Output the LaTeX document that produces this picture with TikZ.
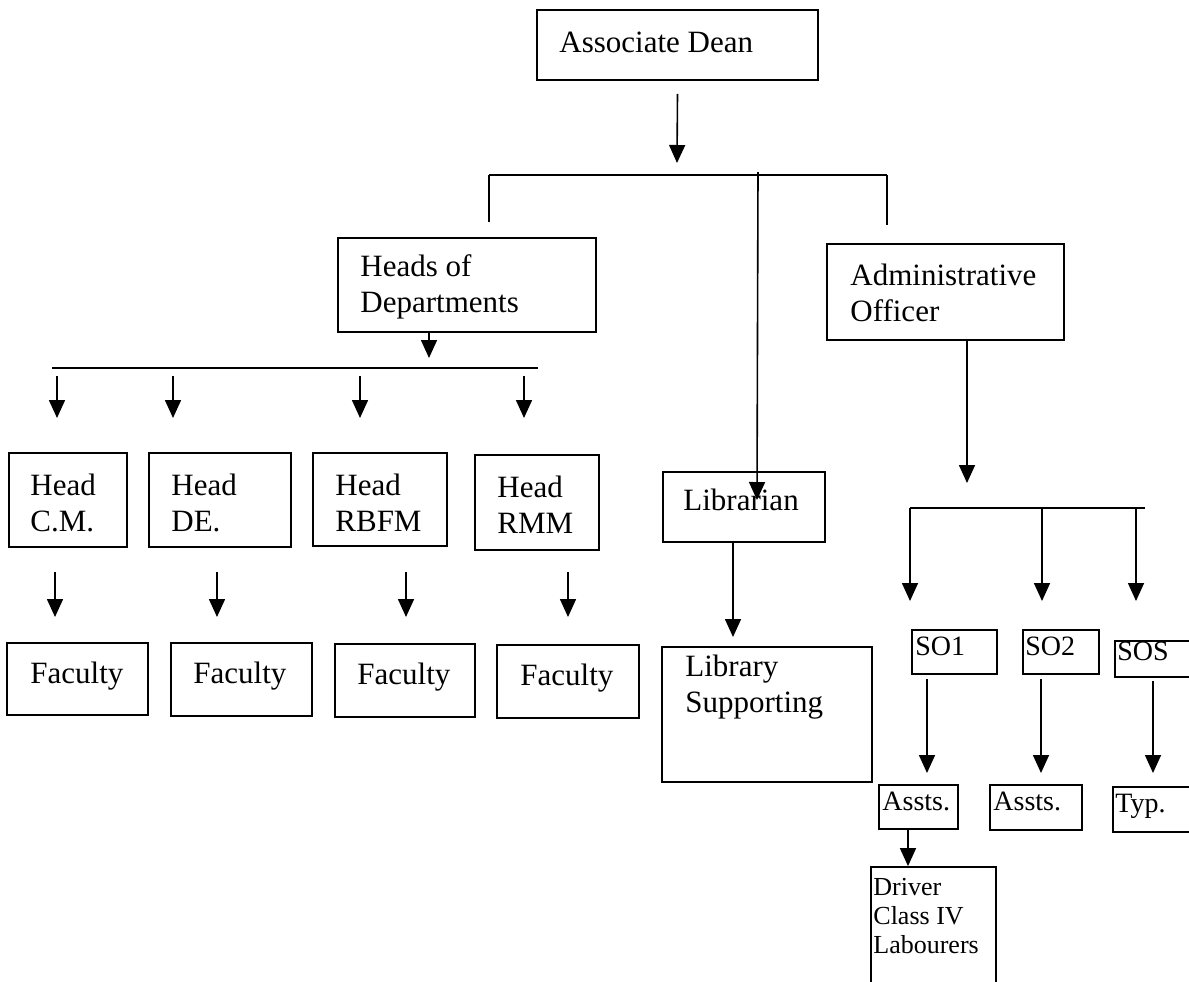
\documentclass[tikz,border=0pt]{standalone}
\usepackage{fontspec}
\setmainfont{Liberation Serif}
\usetikzlibrary{arrows.meta,fit}
\tikzset{box/.style={draw,rectangle,line width=0.9pt,inner sep=0pt}}
\tikzset{txt/.style={anchor=base west,inner sep=0pt,align=left,
                     font=\fontsize{15.5}{18}\selectfont}}
\tikzset{small/.style={txt,font=\fontsize{14}{15}\selectfont}}
\tikzset{tiny/.style={txt,font=\fontsize{13}{14.5}\selectfont}}
\tikzset{line/.style={line width=0.8pt}}
\tikzset{arr/.style={line,-{Triangle[length=9pt,width=8pt]}}}

\begin{document}
\begin{tikzpicture}[x=0.5pt,y=-0.5pt]
    \useasboundingbox (0,0) rectangle (1189,981);

    \node[box,fit={(537,10) (818,80)}] (dean) {};
    \node[txt] (deant) at (559,52) {Associate Dean};

    \node[box,fit={(338,238) (596,332)}] (hod) {};
    \node[txt] (hodt) at (360,312) {Heads of\\Departments};
    \node[box,fit={(827,244) (1064,340)}] (admin) {};
    \node[txt] (admint) at (850,321) {Administrative\\Officer};

    \node[box,fit={(9,453) (127,547)}] (hcm) {};
    \node[txt] (hcmt) at (30,531) {Head\\C.M.};
    \node[box,fit={(149,453) (291,547)}] (hde) {};
    \node[txt] (hdet) at (171,531) {Head\\DE.};
    \node[box,fit={(313,453) (447,546)}] (hrbfm) {};
    \node[txt] (hrbfmt) at (335,531) {Head\\RBFM};
    \node[box,fit={(475,455) (599,550)}] (hrmm) {};
    \node[txt] (hrmmt) at (497,533) {Head\\RMM};

    \node[box,fit={(7,643) (148,715)}] (fac1) {};
    \node[txt] (fac1t) at (30,683) {Faculty};
    \node[box,fit={(171,643) (312,716)}] (fac2) {};
    \node[txt] (fac2t) at (193,683) {Faculty};
    \node[box,fit={(335,644) (475,717)}] (fac3) {};
    \node[txt] (fac3t) at (357,684) {Faculty};
    \node[box,fit={(497,645) (639,718)}] (fac4) {};
    \node[txt] (fac4t) at (520,685) {Faculty};

    \node[box,fit={(663,472) (825,542)}] (lib) {};
    \node[txt] (libt) at (683,510) {Librarian};
    \node[box,fit={(662,647) (872,782)}] (libsup) {};
    \node[txt] (libsupt) at (685,712) {Library\\Supporting};

    \node[box,fit={(912,630) (997,674)}] (so1) {};
    \node[small] (so1t) at (915,655) {SO1};
    \node[box,fit={(1023,630) (1099,674)}] (so2) {};
    \node[small] (so2t) at (1025,655) {SO2};
    \node[box,fit={(1115,641) (1200,677)}] (sos) {};
    \node[small] (sost) at (1117,660) {SOS};

    \node[box,fit={(879,785) (958,829)}] (assts1) {};
    \node[small] (assts1t) at (882,810) {Assts.};
    \node[box,fit={(990,785) (1082,830)}] (assts2) {};
    \node[small] (assts2t) at (993,810) {Assts.};
    \node[box,fit={(1113,787) (1200,832)}] (typ) {};
    \node[small] (typt) at (1115,812) {Typ.};

    \node[box,fit={(871,867) (996,995)}] (driver) {};
    \node[tiny] (drivert) at (873,953) {Driver\\Class IV\\Labourers};

    % dean to the three branches
    \coordinate (deantip) at (677,163);
    \coordinate (barl) at (489,175);
    \coordinate (barr) at (887,175);
    \coordinate (barm) at (758,172);
    \coordinate (libtip) at (757,500);
    \draw[arr] (dean.south) ++(0,13) -- (deantip);
    \draw[line] (barl) -- (barr);
    \draw[line] (barl) -- ++(0,47);
    \draw[line] (barr) -- ++(0,50);
    \draw[arr] (barm) -- (libtip);

    % heads of departments
    \coordinate (hodtip) at (429,358);
    \coordinate (hodbarl) at (52,368);
    \coordinate (hodbarr) at (538,368);
    \draw[arr] (hod.south -| hodtip) -- (hodtip);
    \draw[line] (hodbarl) -- (hodbarr);
    \foreach \x [count=\i] in {57,173,360,524}{
        \coordinate (dtop\i) at (\x,376);
        \coordinate (dtip\i) at (\x,418);
        \draw[arr] (dtop\i) -- (dtip\i);
    }
    \foreach \x [count=\i] in {55,217,406,568}{
        \coordinate (ftop\i) at (\x,572);
        \coordinate (ftip\i) at (\x,617);
        \draw[arr] (ftop\i) -- (ftip\i);
    }

    % librarian
    \coordinate (libsuptip) at (733,637);
    \draw[arr] (lib.south -| libsuptip) -- (libsuptip);

    % administrative officer
    \coordinate (admtip) at (967,483);
    \coordinate (admbarl) at (910,508);
    \coordinate (admbarr) at (1145,508);
    \draw[arr] (admin.south -| admtip) -- (admtip);
    \draw[line] (admbarl) -- (admbarr);
    \foreach \x [count=\i] in {910,1042,1136}{
        \coordinate (stop\i) at (\x,508);
        \coordinate (stip\i) at (\x,601);
        \draw[arr] (stop\i) -- (stip\i);
    }
    \coordinate (atip1) at (927,773);
    \coordinate (atip2) at (1041,773);
    \coordinate (atip3) at (1153,773);
    \draw[arr] (so1.south -| atip1) ++(0,4) -- (atip1);
    \draw[arr] (so2.south -| atip2) ++(0,4) -- (atip2);
    \draw[arr] (sos.south -| atip3) ++(0,3) -- (atip3);
    \draw[arr] (assts1.south -| 908,0) -- (driver.north -| 908,0);

\end{tikzpicture}
\end{document}
